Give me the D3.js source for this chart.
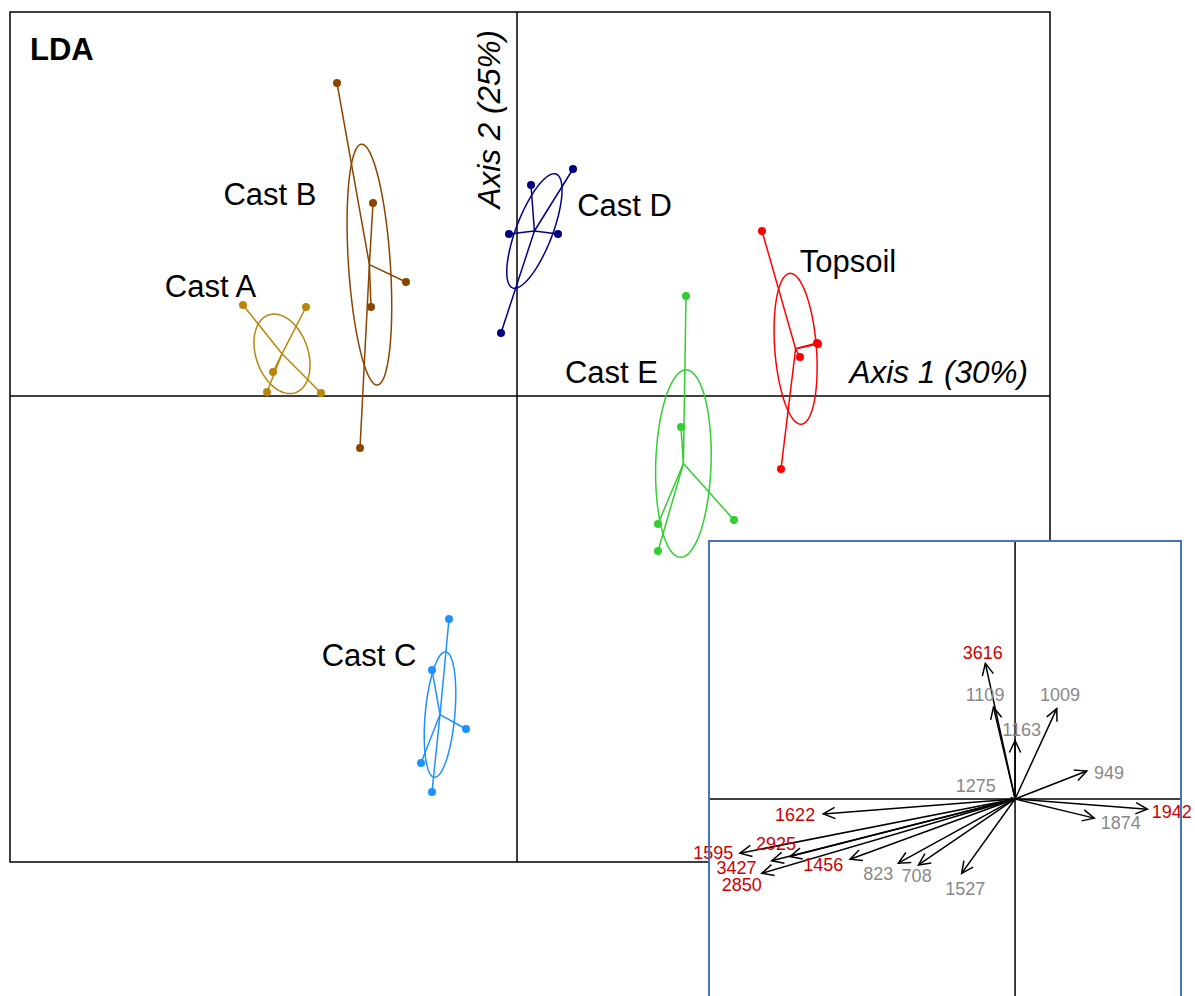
<!DOCTYPE html>
<html>
<head>
<meta charset="utf-8">
<script src="https://cdn.jsdelivr.net/npm/d3@7"></script>
<style>
  body { margin: 0; background: #fff; }
  text { font-family: "Liberation Sans", Arial, sans-serif; }
</style>
</head>
<body>
<div id="chart"></div>
<script>
// LDA scores per group (axis 1, axis 2)
const groups = ['Cast A', 'Cast B', 'Cast C', 'Cast D', 'Cast E', 'Topsoil'];
const groupColors = ['#B8860B', '#8B4500', '#1E90FF', '#000080', '#32CD32', '#FF0000'];
const scoreLD1 = [
  [-2.74, -2.11, -2.44, -2.50, -1.96],
  [-1.80, -1.44, -1.11, -1.46, -1.57],
  [-0.68, -0.85, -0.51, -0.96, -0.85],
  [0.56, 0.14, -0.08, 0.41, -0.16],
  [1.69, 1.64, 1.41, 2.17, 1.41],
  [2.45, 3.00, 3.01, 2.83, 2.64]
];
const scoreLD2 = [
  [0.91, 0.89, 0.24, 0.04, 0.03],
  [3.13, 1.93, 1.14, 0.89, -0.52],
  [-2.23, -2.74, -3.33, -3.67, -3.96],
  [2.27, 2.11, 1.62, 1.62, 0.63],
  [1.00, -0.31, -1.28, -1.24, -1.55],
  [1.65, 0.53, 0.52, 0.39, -0.73]
];
const groupLabelLD1 = [-3.065, -2.47, -1.48, 1.075, 0.945, 3.31];
const groupLabelLD2 = [1.10, 2.02, -2.59, 1.91, 0.24, 1.35];

// variable loadings (inset)
const varNames = ['3616', '1109', '1163', '1009', '949', '1275', '1622', '1942', '1874',
  '1595', '2925', '3427', '2850', '1456', '823', '708', '1527'];
const loadLD1 = [-0.099, -0.072, 0.0, 0.139, 0.239, -0.015, -0.639, 0.441, 0.264,
  -0.917, -0.75, -0.811, -0.844, -0.55, -0.389, -0.322, -0.178];
const loadLD2 = [0.452, 0.306, 0.194, 0.301, 0.093, 0.005, -0.05, -0.034, -0.064,
  -0.181, -0.192, -0.206, -0.248, -0.201, -0.214, -0.22, -0.248];
const varLabelLD1 = [-0.108, -0.10, 0.022, 0.15, 0.313, -0.131, -0.733, 0.522, 0.352,
  -1.006, -0.797, -0.928, -0.911, -0.639, -0.456, -0.328, -0.166];
const varLabelLD2 = [0.487, 0.347, 0.23, 0.347, 0.089, 0.044, -0.051, -0.042, -0.078,
  -0.178, -0.148, -0.228, -0.285, -0.22, -0.248, -0.256, -0.30];
const redVars = ['3616', '1622', '1942', '1595', '2925', '3427', '2850', '1456'];

const W = 1195, H = 996;
const svg = d3.select('#chart').append('svg').attr('width', W).attr('height', H);

const x = d3.scaleLinear().domain([-5.07, 5.33]).range([10, 1050]);
const y = d3.scaleLinear().domain([-4.66, 3.84]).range([862, 12]);

// frame and axes
svg.append('rect').attr('x', x.range()[0]).attr('y', y.range()[1])
  .attr('width', x.range()[1] - x.range()[0]).attr('height', y.range()[0] - y.range()[1])
  .attr('fill', 'none').attr('stroke', '#000').attr('stroke-width', 1.5);
svg.append('line').attr('x1', x.range()[0]).attr('x2', x.range()[1]).attr('y1', y(0)).attr('y2', y(0))
  .attr('stroke', '#000').attr('stroke-width', 1.5);
svg.append('line').attr('x1', x(0)).attr('x2', x(0)).attr('y1', y.range()[1]).attr('y2', y.range()[0])
  .attr('stroke', '#000').attr('stroke-width', 1.5);

svg.append('text').attr('x', 30).attr('y', 60).style('font-size', '31px').style('font-weight', 'bold').text('LDA');
svg.append('text').attr('x', x.range()[1] - 22).attr('y', y(0) - 13).attr('text-anchor', 'end')
  .style('font-size', '31.5px').style('font-style', 'italic').text('Axis 1 (30%)');
svg.append('text').attr('transform', `translate(${x(0) - 17},30) rotate(-90)`).attr('text-anchor', 'end')
  .style('font-size', '31.5px').style('font-style', 'italic').text('Axis 2 (25%)');

// groups: 1-sd ellipse, star to centroid, points
groups.forEach((g, gi) => {
  const xs = scoreLD1[gi], ys = scoreLD2[gi], n = xs.length;
  const mx = d3.mean(xs), my = d3.mean(ys);
  const vx = d3.sum(xs, v => (v - mx) ** 2) / n;
  const vy = d3.sum(ys, v => (v - my) ** 2) / n;
  const cxy = d3.sum(xs, (v, i) => (v - mx) * (ys[i] - my)) / n;
  // cholesky of covariance
  const l11 = Math.sqrt(vx), l21 = cxy / l11, l22 = Math.sqrt(Math.max(vy - l21 * l21, 0));
  const pts = d3.range(0, 361, 3).map(a => {
    const t = a * Math.PI / 180, c = Math.cos(t), s = Math.sin(t);
    return [x(mx + l11 * c), y(my + l21 * c + l22 * s)];
  });
  const col = groupColors[gi];
  const gg = svg.append('g');
  gg.append('path').attr('d', d3.line()(pts) + 'Z').attr('fill', 'none').attr('stroke', col).attr('stroke-width', 1.5);
  gg.selectAll('.star').data(xs).enter().append('line')
    .attr('x1', x(mx)).attr('y1', y(my)).attr('x2', d => x(d)).attr('y2', (d, i) => y(ys[i]))
    .attr('stroke', col).attr('stroke-width', 1.5);
  gg.selectAll('.pt').data(xs).enter().append('circle')
    .attr('cx', d => x(d)).attr('cy', (d, i) => y(ys[i])).attr('r', 4).attr('fill', col);
  gg.append('text').attr('x', x(groupLabelLD1[gi])).attr('y', y(groupLabelLD2[gi])).attr('dy', '0.36em')
    .attr('text-anchor', 'middle').style('font-size', '31px').text(g);
});

// inset
const ix = d3.scaleLinear().domain([-1.02, 0.553]).range([709, 1181]);
const iy = d3.scaleLinear().domain([-0.657, 0.86]).range([996, 541]);
const inset = svg.append('g');
inset.append('rect').attr('x', ix.range()[0]).attr('y', iy.range()[1])
  .attr('width', ix.range()[1] - ix.range()[0]).attr('height', 500).attr('fill', '#fff');
inset.append('line').attr('x1', ix.range()[0]).attr('x2', ix.range()[1]).attr('y1', iy(0)).attr('y2', iy(0))
  .attr('stroke', '#000').attr('stroke-width', 1.5);
inset.append('line').attr('x1', ix(0)).attr('x2', ix(0)).attr('y1', iy.range()[1]).attr('y2', H + 10)
  .attr('stroke', '#000').attr('stroke-width', 1.5);

varNames.forEach((v, i) => {
  const x0 = ix(0), y0 = iy(0), x1 = ix(loadLD1[i]), y1 = iy(loadLD2[i]);
  inset.append('line').attr('x1', x0).attr('y1', y0).attr('x2', x1).attr('y2', y1)
    .attr('stroke', '#000').attr('stroke-width', 1.5);
  const len = Math.hypot(x1 - x0, y1 - y0);
  if (len > 12) {
    const ang = Math.atan2(y1 - y0, x1 - x0), hl = 13, ha = 0.45;
    const p = [
      [x1 - hl * Math.cos(ang - ha), y1 - hl * Math.sin(ang - ha)],
      [x1, y1],
      [x1 - hl * Math.cos(ang + ha), y1 - hl * Math.sin(ang + ha)]
    ];
    inset.append('path').attr('d', d3.line()(p)).attr('fill', 'none')
      .attr('stroke', '#000').attr('stroke-width', 1.5);
  }
});
inset.selectAll('.vlab').data(varNames).enter().append('text')
  .attr('x', (d, i) => ix(varLabelLD1[i])).attr('y', (d, i) => iy(varLabelLD2[i])).attr('dy', '0.36em')
  .attr('text-anchor', 'middle').style('font-size', '18px')
  .style('fill', d => redVars.includes(d) ? '#CC0000' : '#888888').text(d => d);

inset.append('path')
  .attr('d', `M${ix.range()[0]},${H + 10}V${iy.range()[1]}H${ix.range()[1]}V${H + 10}`)
  .attr('fill', 'none').attr('stroke', '#4472C4').attr('stroke-width', 2);
</script>
</body>
</html>
